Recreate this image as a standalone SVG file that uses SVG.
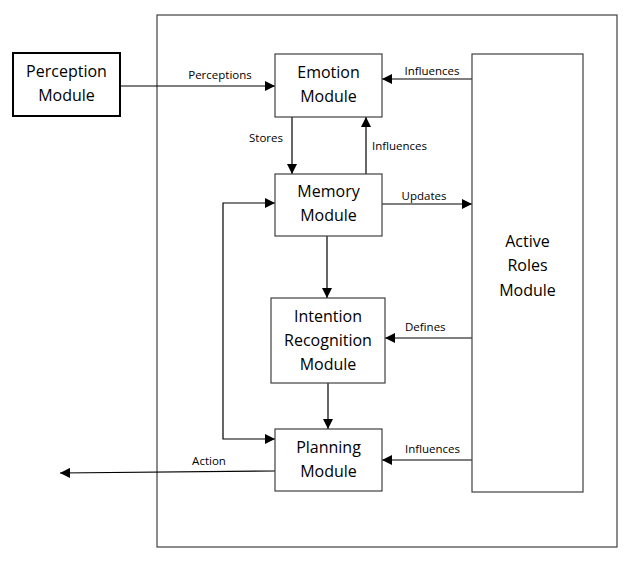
<svg xmlns="http://www.w3.org/2000/svg" width="636" height="562" viewBox="0 0 636 562">
<defs>
<marker id="ah" viewBox="0 0 10 10" refX="10" refY="5" markerWidth="10" markerHeight="10" markerUnits="userSpaceOnUse" orient="auto-start-reverse">
<path d="M0,0 L10,5 L0,10 z" fill="#000"/>
</marker>
<style>
.box{fill:#fff;stroke:#404040;stroke-width:1.2}
.t{font-family:"Open Sans","Liberation Sans",sans-serif;font-size:16px;fill:#000;text-anchor:middle}
.l{font-family:"Open Sans","Liberation Sans",sans-serif;font-size:11.5px;fill:#000}
.c{fill:none;stroke:#000;stroke-width:1.2}
</style>
</defs>
<rect width="636" height="562" fill="#fff"/>
<g id="system">
<rect x="157" y="15" width="460" height="532" fill="none" stroke="#404040" stroke-width="1.2"/>
</g>
<g id="connectors">
<line class="c" x1="120" y1="86" x2="275" y2="86" marker-end="url(#ah)"/>
<line class="c" x1="292" y1="117" x2="292" y2="174" marker-end="url(#ah)"/>
<line class="c" x1="366" y1="174" x2="366" y2="117" marker-end="url(#ah)"/>
<line class="c" x1="472" y1="79" x2="382" y2="79" marker-end="url(#ah)"/>
<line class="c" x1="382" y1="204" x2="472" y2="204" marker-end="url(#ah)"/>
<line class="c" x1="327" y1="236" x2="327" y2="298" marker-end="url(#ah)"/>
<line class="c" x1="472" y1="338" x2="385" y2="338" marker-end="url(#ah)"/>
<line class="c" x1="328" y1="383" x2="328" y2="429" marker-end="url(#ah)"/>
<line class="c" x1="472" y1="460" x2="382" y2="460" marker-end="url(#ah)"/>
<polyline class="c" points="275,203 223,203 223,439 275,439" marker-start="url(#ah)" marker-end="url(#ah)"/>
<line class="c" x1="275" y1="471" x2="60" y2="473" marker-end="url(#ah)"/>
<text class="l" x="220" y="79" text-anchor="middle">Perceptions</text>
<text class="l" x="266" y="142" text-anchor="middle">Stores</text>
<text class="l" x="372" y="150">Influences</text>
<text class="l" x="432" y="75" text-anchor="middle">Influences</text>
<text class="l" x="424" y="200" text-anchor="middle">Updates</text>
<text class="l" x="405" y="331">Defines</text>
<text class="l" x="405" y="453">Influences</text>
<text class="l" x="209" y="465" text-anchor="middle">Action</text>
</g>
<g id="perception">
<rect x="13" y="53" width="107" height="63" fill="#fff" stroke="#000" stroke-width="2"/>
<text class="t" x="66.5" y="77">Perception</text>
<text class="t" x="66.5" y="101">Module</text>
</g>
<g id="emotion">
<rect class="box" x="275" y="54" width="107" height="63"/>
<text class="t" x="328.5" y="78">Emotion</text>
<text class="t" x="328.5" y="102">Module</text>
</g>
<g id="memory">
<rect class="box" x="275" y="174" width="107" height="62"/>
<text class="t" x="328.5" y="197">Memory</text>
<text class="t" x="328.5" y="221">Module</text>
</g>
<g id="intention">
<rect class="box" x="271" y="298" width="114" height="85"/>
<text class="t" x="328" y="322">Intention</text>
<text class="t" x="328" y="346">Recognition</text>
<text class="t" x="328" y="370">Module</text>
</g>
<g id="planning">
<rect class="box" x="275" y="429" width="107" height="62"/>
<text class="t" x="328.5" y="453">Planning</text>
<text class="t" x="328.5" y="477">Module</text>
</g>
<g id="activeroles">
<rect class="box" x="472" y="54" width="111" height="438"/>
<text class="t" x="527.5" y="247">Active</text>
<text class="t" x="527.5" y="271">Roles</text>
<text class="t" x="527.5" y="296">Module</text>
</g>
</svg>
